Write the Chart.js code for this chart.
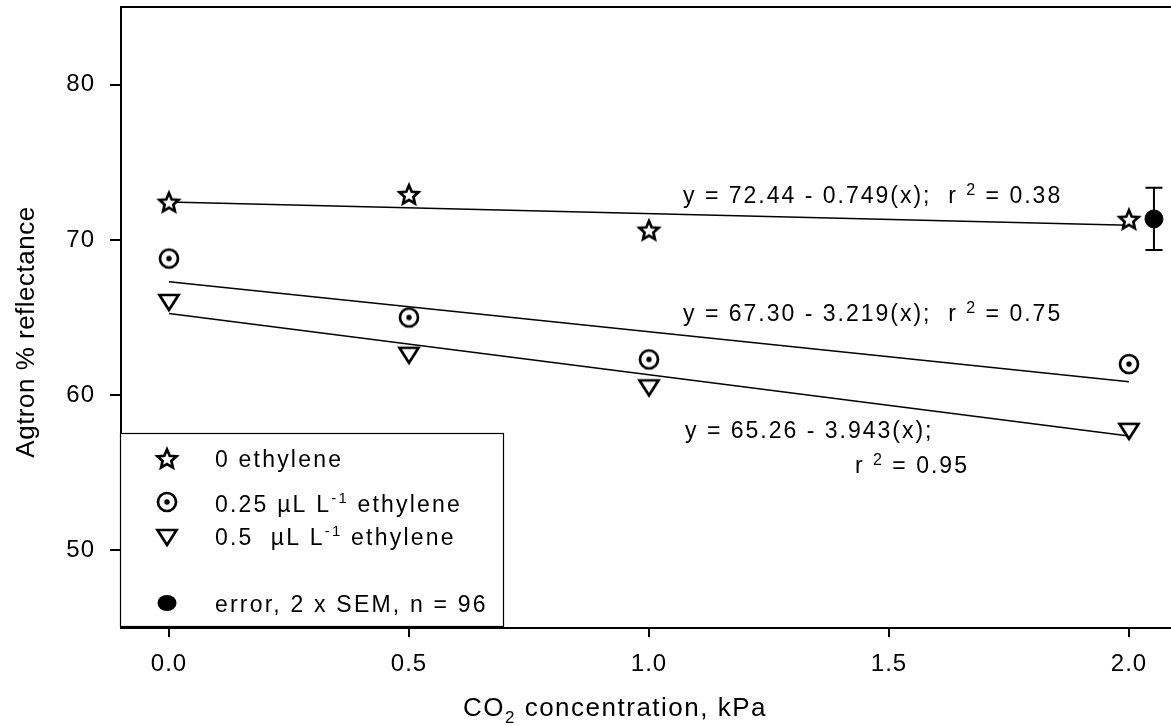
<!DOCTYPE html>
<html>
<head>
<meta charset="utf-8">
<script src="https://cdn.jsdelivr.net/npm/chart.js@4/dist/chart.umd.min.js"></script>
<style>
  html, body { margin: 0; padding: 0; background: #fff; }
  #wrap { width: 1171px; height: 726px; }
</style>
</head>
<body>
<div id="wrap"><canvas id="chart" width="1171" height="726"></canvas></div>
<script>
// CO2 levels (kPa) at which reflectance was measured
const co2Levels = [0, 0.5, 1.0, 2.0];
// Agtron % reflectance for each ethylene treatment
const reflNoEthylene = [72.4, 72.9, 70.6, 71.3];
const refl025Ethylene = [68.8, 65.0, 62.3, 62.0];
const refl05Ethylene = [66.0, 62.6, 60.5, 57.7];
// Linear fits: y = intercept + slope * x
const fitIntercepts = [72.44, 67.30, 65.26];
const fitSlopes = [-0.749, -3.219, -3.943];
const fitR2 = [0.38, 0.75, 0.95];
const fitRange = [0, 2.0];
// Pooled error bar (2 x SEM, n = 96)
const errorX = [2.052];
const errorY = [71.35];
const errorHalf = [2.0];
// Axis ticks
const xTicks = [0, 0.5, 1.0, 1.5, 2.0];
const yTicks = [50, 60, 70, 80];

const FONT = "'Liberation Sans', Arial, sans-serif";

function makeMarker(kind) {
  const c = document.createElement('canvas');
  c.width = 28; c.height = 28;
  const g = c.getContext('2d');
  const cx = 14, cy = 14;
  g.lineWidth = 2.7;
  g.strokeStyle = '#000';
  g.fillStyle = '#fff';
  g.lineJoin = 'miter';
  if (kind === 'star') {
    g.beginPath();
    for (let i = 0; i < 10; i++) {
      const r = i % 2 === 0 ? 10 : 4.6;
      const a = -Math.PI / 2 + i * Math.PI / 5;
      const px = cx + r * Math.cos(a), py = cy + 0.5 + r * Math.sin(a);
      if (i === 0) g.moveTo(px, py); else g.lineTo(px, py);
    }
    g.closePath();
    g.fill(); g.stroke();
  } else if (kind === 'dotcircle') {
    g.beginPath(); g.arc(cx, cy, 9, 0, Math.PI * 2); g.fill(); g.stroke();
    g.beginPath(); g.fillStyle = '#000'; g.arc(cx, cy, 2.7, 0, Math.PI * 2); g.fill();
  } else if (kind === 'tridown') {
    g.beginPath();
    g.moveTo(cx - 9.5, cy - 7); g.lineTo(cx + 9.5, cy - 7); g.lineTo(cx, cy + 8);
    g.closePath(); g.fill(); g.stroke();
  }
  return c;
}
const starImg = makeMarker('star');
const dotCircleImg = makeMarker('dotcircle');
const triImg = makeMarker('tridown');

function pts(ys) { return co2Levels.map((x, i) => ({ x: x, y: ys[i] })); }
function fitLine(k) {
  return fitRange.map(x => ({ x: x, y: fitIntercepts[k] + fitSlopes[k] * x }));
}

// Draw a sequence of text runs (normal / superscript / subscript) left to right
function drawRuns(ctx, x, y, runs, spacing) {
  ctx.save();
  ctx.fillStyle = '#000';
  ctx.textBaseline = 'alphabetic';
  ctx.textAlign = 'left';
  ctx.letterSpacing = spacing + 'px';
  let cx = x;
  runs.forEach(r => {
    ctx.font = r.size + 'px ' + FONT;
    ctx.fillText(r.t, cx, y + (r.dy || 0));
    cx += ctx.measureText(r.t).width;
  });
  ctx.restore();
  return cx;
}
function runsWidth(ctx, runs, spacing) {
  ctx.save();
  ctx.letterSpacing = spacing + 'px';
  let w = 0;
  runs.forEach(r => { ctx.font = r.size + 'px ' + FONT; w += ctx.measureText(r.t).width; });
  ctx.restore();
  return w;
}

const TXT = 23;
function eqText(k) {
  return 'y = ' + fitIntercepts[k].toFixed(2) + ' - ' + Math.abs(fitSlopes[k]).toFixed(3) + '(x);';
}
function r2Runs(k) {
  return [{ t: 'r ', size: TXT }, { t: '2', size: 16, dy: -8 }, { t: ' = ' + fitR2[k].toFixed(2), size: TXT }];
}

const decorations = {
  id: 'decorations',
  afterLayout(chart) {
    // plot area spans from the y axis to the right edge of the canvas, top at 7px
    const xs = chart.scales.x, ys = chart.scales.y, area = chart.chartArea;
    area.right = chart.width;
    area.width = area.right - area.left;
    xs.right = chart.width;
    xs.width = xs.right - xs.left;
    xs.configure();
    area.top = 7;
    area.height = area.bottom - area.top;
    ys.top = 7;
    ys.height = ys.bottom - ys.top;
    ys.configure();
  },
  beforeDraw(chart) {
    chart.ctx.letterSpacing = '1px';
  },
  afterDatasetsDraw(chart) {
    const ctx = chart.ctx;
    const xs = chart.scales.x, ys = chart.scales.y;
    const area = chart.chartArea;

    // error bar
    ctx.save();
    ctx.strokeStyle = '#000';
    ctx.lineWidth = 2;
    errorX.forEach((ex, i) => {
      const px = xs.getPixelForValue(ex);
      const top = ys.getPixelForValue(errorY[i] + errorHalf[i]);
      const bot = ys.getPixelForValue(errorY[i] - errorHalf[i]);
      ctx.beginPath();
      ctx.moveTo(px, top); ctx.lineTo(px, bot);
      ctx.moveTo(px - 8.5, top); ctx.lineTo(px + 8.5, top);
      ctx.moveTo(px - 8.5, bot); ctx.lineTo(px + 8.5, bot);
      ctx.stroke();
    });
    ctx.restore();

    // frame line along the top
    ctx.save();
    ctx.strokeStyle = '#000';
    ctx.lineWidth = 2;
    ctx.beginPath();
    ctx.moveTo(area.left - 1, area.top);
    ctx.lineTo(chart.width, area.top);
    ctx.stroke();
    ctx.restore();

    // regression equations
    const sp = 2;
    drawRuns(ctx, 683, 203, [{ t: eqText(0) + '  ', size: TXT }].concat(r2Runs(0)), sp);
    drawRuns(ctx, 683, 321, [{ t: eqText(1) + '  ', size: TXT }].concat(r2Runs(1)), sp);
    drawRuns(ctx, 685, 438, [{ t: eqText(2), size: TXT }], sp);
    drawRuns(ctx, 855, 473, r2Runs(2), sp);

    // legend box
    ctx.save();
    ctx.fillStyle = '#fff';
    ctx.fillRect(120, 433, 383, 193);
    ctx.strokeStyle = '#000';
    ctx.lineWidth = 1.2;
    ctx.strokeRect(120.5, 433.5, 383, 193);
    ctx.restore();

    const mx = 167;
    ctx.drawImage(starImg, mx - 14, 459 - 14);
    ctx.drawImage(dotCircleImg, mx - 14, 502 - 14);
    ctx.drawImage(triImg, mx - 14, 537 - 14);
    ctx.save();
    ctx.fillStyle = '#000';
    ctx.beginPath(); ctx.ellipse(mx, 603, 9.5, 8, 0, 0, Math.PI * 2); ctx.fill();
    ctx.restore();

    const lx = 215, ls = 2.2;
    drawRuns(ctx, lx, 467, [{ t: '0 ethylene', size: TXT }], ls);
    drawRuns(ctx, lx, 512, [{ t: '0.25 µL L', size: TXT }, { t: '-1', size: 15, dy: -9 }, { t: ' ethylene', size: TXT }], ls);
    drawRuns(ctx, lx, 545, [{ t: '0.5  µL L', size: TXT }, { t: '-1', size: 15, dy: -9 }, { t: ' ethylene', size: TXT }], ls);
    drawRuns(ctx, lx, 612, [{ t: 'error, 2 x SEM, n = 96', size: TXT }], ls);

    // axis titles
    const xRuns = [{ t: 'CO', size: 26 }, { t: '2', size: 17, dy: 7 }, { t: ' concentration, kPa', size: 26 }];
    const xw = runsWidth(ctx, xRuns, 1.5);
    drawRuns(ctx, 615 - xw / 2, 716, xRuns, 1.5);

    ctx.save();
    ctx.translate(34, 332);
    ctx.rotate(-Math.PI / 2);
    const yRuns = [{ t: 'Agtron % reflectance', size: 26 }];
    const yw = runsWidth(ctx, yRuns, 0.5);
    drawRuns(ctx, -yw / 2, 0, yRuns, 0.5);
    ctx.restore();
  }
};

function noScalePadding(s) {
  s.paddingTop = 0; s.paddingBottom = 0; s.paddingLeft = 0; s.paddingRight = 0;
}

new Chart(document.getElementById('chart'), {
  type: 'scatter',
  data: {
    datasets: [
      { label: '0 ethylene', data: pts(reflNoEthylene), pointStyle: starImg, showLine: false },
      { label: '0.25 µL L-1 ethylene', data: pts(refl025Ethylene), pointStyle: dotCircleImg, showLine: false },
      { label: '0.5 µL L-1 ethylene', data: pts(refl05Ethylene), pointStyle: triImg, showLine: false },
      { label: 'error', data: errorX.map((x, i) => ({ x: x, y: errorY[i] })), pointStyle: 'circle',
        pointRadius: 9, pointBackgroundColor: '#000', pointBorderColor: '#000', showLine: false },
      { type: 'line', label: 'fit 0', data: fitLine(0), borderColor: '#000', borderWidth: 1.5, pointRadius: 0, fill: false },
      { type: 'line', label: 'fit 0.25', data: fitLine(1), borderColor: '#000', borderWidth: 1.5, pointRadius: 0, fill: false },
      { type: 'line', label: 'fit 0.5', data: fitLine(2), borderColor: '#000', borderWidth: 1.5, pointRadius: 0, fill: false }
    ]
  },
  options: {
    responsive: false,
    animation: false,
    devicePixelRatio: 1,
    layout: { padding: { top: 7, right: 0, left: 0, bottom: 0 } },
    plugins: { legend: { display: false }, tooltip: { enabled: false } },
    scales: {
      x: {
        type: 'linear',
        min: -0.1,
        max: 2.0875,
        afterBuildTicks: s => { s.ticks = xTicks.map(v => ({ value: v })); },
        afterFit: s => { s.height = 98; noScalePadding(s); },
        grid: { drawOnChartArea: false, drawTicks: true, tickLength: 9, color: '#000', lineWidth: 2 },
        border: { display: true, color: '#000', width: 2 },
        ticks: { color: '#000', font: { family: FONT, size: 24 }, padding: 13,
                 maxRotation: 0, callback: v => Number(v).toFixed(1) }
      },
      y: {
        type: 'linear',
        min: 45,
        max: 85,
        afterBuildTicks: s => { s.ticks = yTicks.map(v => ({ value: v })); },
        afterFit: s => { s.width = 121; noScalePadding(s); },
        grid: { drawOnChartArea: false, drawTicks: true, tickLength: 11, color: '#000', lineWidth: 2 },
        border: { display: true, color: '#000', width: 2 },
        ticks: { color: '#000', font: { family: FONT, size: 24 }, padding: 15 }
      }
    }
  },
  plugins: [decorations]
});
</script>
</body>
</html>
